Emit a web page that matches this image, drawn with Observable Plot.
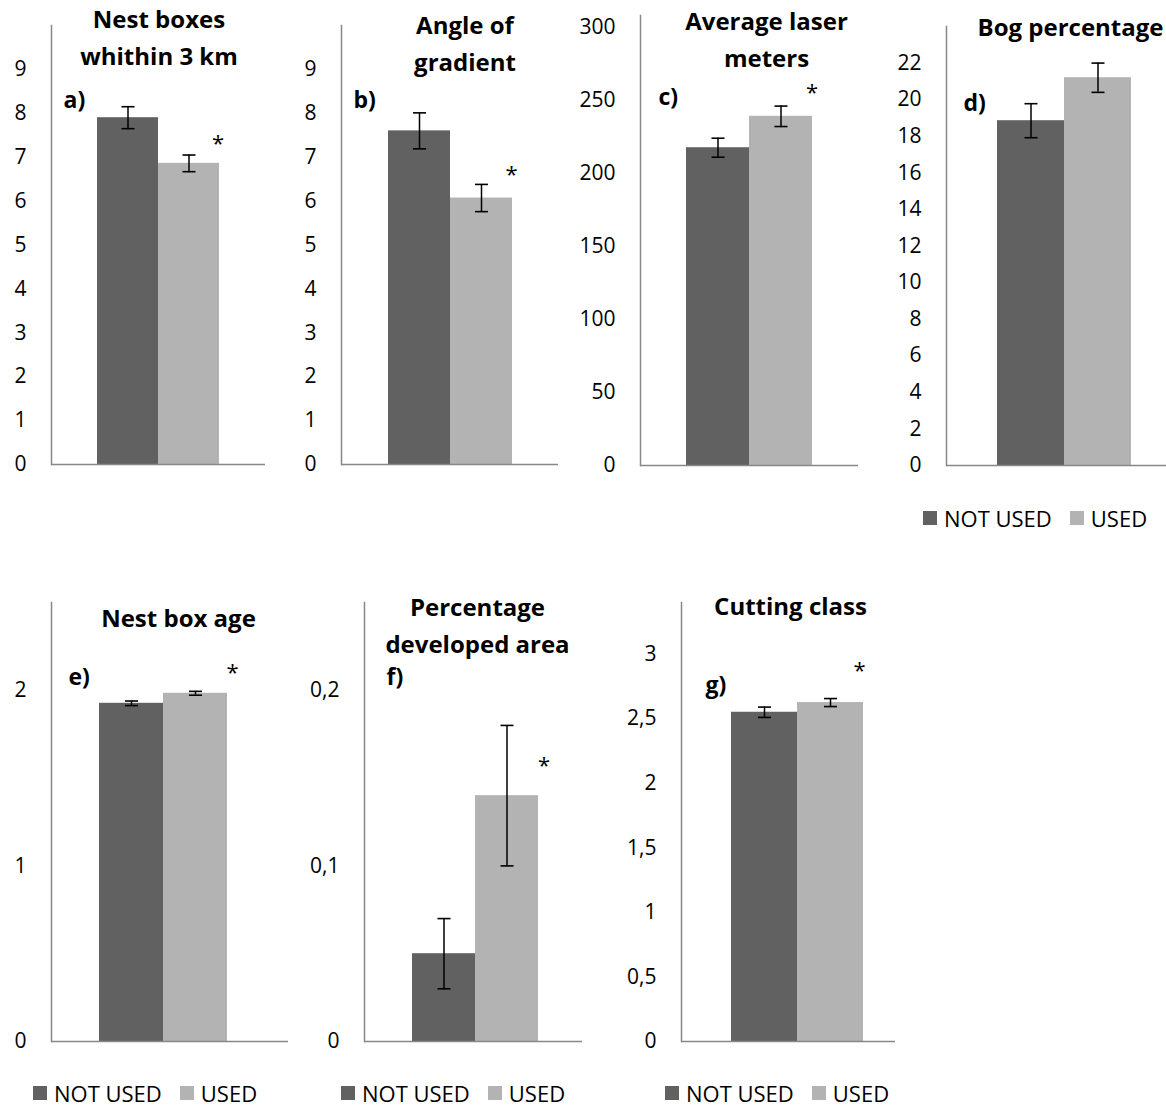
<!DOCTYPE html>
<html><head><meta charset="utf-8">
<script src="https://cdn.jsdelivr.net/npm/d3@7"></script>
<script src="https://cdn.jsdelivr.net/npm/@observablehq/plot@0.6"></script>
<style>
html,body{margin:0;padding:0;background:#fff;overflow:hidden;}
#chart{position:relative;width:1166px;height:1107px;font-family:"Open Sans",sans-serif;}
.panel{position:absolute;}
.leg-swatch{margin-right:18px !important;}
.leg-swatch > svg{margin-right:7px !important;}
</style></head><body><div id="chart"></div>
<script>
// ---- data ----
const groups = ["NOT USED", "USED"];
const panelLabels = ["a)", "b)", "c)", "d)", "e)", "f)", "g)"];
const titles = ["Nest boxes\nwhithin 3 km", "Angle of\ngradient", "Average laser\nmeters", "Bog percentage", "Nest box age", "Percentage\ndeveloped area", "Cutting class"];
const notUsedMean = [7.9, 7.6, 217.5, 18.85, 1.926, 0.05, 2.55];
const notUsedErr  = [0.25, 0.41, 6.5, 0.93, 0.013, 0.02, 0.04];
const usedMean    = [6.86, 6.07, 239, 21.2, 1.983, 0.14, 2.625];
const usedErr     = [0.19, 0.31, 7, 0.8, 0.011, 0.04, 0.031];
const significant = [true, true, true, false, true, true, true];
const yMax = [10, 10, 308, 24, 2.5, 0.25, 3.4];
const yTicks = [
  [0,1,2,3,4,5,6,7,8,9],
  [0,1,2,3,4,5,6,7,8,9],
  [0,50,100,150,200,250,300],
  [0,2,4,6,8,10,12,14,16,18,20,22],
  [0,1,2],
  [0,0.1,0.2],
  [0,0.5,1,1.5,2,2.5,3]
];

// ---- styles / layout ----
const colors = ["#616161", "#b3b3b3"];
const axisColor = "#888888";
const font = '"Open Sans", sans-serif';
const layout = [
  {frame:[51,25,265,464],  po:.726, align:.5,  title:[0.5,9.5], label:[12,75], star:[29,-11.5], legend:null},
  {frame:[341,25,558,464], po:.736, align:.5,  title:[15,15],   label:[12,75], star:[30,-9.5], legend:null},
  {frame:[640,15,858,465], po:.73,  align:.5,  title:[17,21.5], label:[18,82], star:[31,-13.5], legend:null},
  {frame:[946,26,1166,465],po:.64,  align:.59, title:[14,-2],   label:[17,77], star:[0,0], legend:[923,518]},
  {frame:[51,602,288,1041],po:.837, align:.444,title:[8.5,13],  label:[17,75], star:[37,-18.5], legend:[33,1093]},
  {frame:[364,602,582,1041],po:.717,align:.527,title:[4,20.5],  label:[22,75], star:[37,40.5], legend:[341,1093]},
  {frame:[681,602,895,1041],po:.609,align:.605,title:[2,1],     label:[24,83], star:[29,-27.5], legend:[665,1093]}
];
const ml = 90, mr = 40, mt = 50, mb = 20;
const fmt = d => String(d).replace(".", ",");
const cap = {draw(ctx, size) { const r = Math.sqrt(size / Math.PI); ctx.moveTo(-r, 0); ctx.lineTo(r, 0); }};

const root = document.getElementById("chart");

layout.forEach((L, i) => {
  const [x0, y0, x1, y1] = L.frame;
  const rows = groups.map((g, j) => ({
    group: g,
    mean: j ? usedMean[i] : notUsedMean[i],
    err: j ? usedErr[i] : notUsedErr[i]
  }));
  const marks = [
    Plot.barY(rows, {x: "group", y: "mean", fill: "group"}),
    Plot.ruleX(rows, {x: "group", y1: d => d.mean - d.err, y2: d => d.mean + d.err, stroke: "#000", strokeWidth: 1.5}),
    Plot.dot(rows, {x: "group", y: d => d.mean + d.err, symbol: cap, r: 6.5, stroke: "#000", fill: "none", strokeWidth: 1.6}),
    Plot.dot(rows, {x: "group", y: d => d.mean - d.err, symbol: cap, r: 6.5, stroke: "#000", fill: "none", strokeWidth: 1.6}),
    Plot.ruleY([0], {stroke: axisColor, strokeWidth: 1.5}),
    Plot.frame({anchor: "left", stroke: axisColor, strokeWidth: 1.5}),
    Plot.axisY({ticks: yTicks[i], tickSize: 0, tickPadding: 25, tickFormat: fmt, fontSize: 21, label: null}),
    Plot.text([titles[i]], {text: d => d, frameAnchor: "top", dx: L.title[0], dy: L.title[1], fontSize: 24, fontWeight: "bold", lineHeight: 1.54, lineAnchor: "middle"}),
    Plot.text([panelLabels[i]], {text: d => d, frameAnchor: "top-left", textAnchor: "start", dx: L.label[0], dy: L.label[1], fontSize: 23, fontWeight: "bold", lineAnchor: "middle"})
  ];
  if (significant[i]) {
    marks.push(Plot.text([rows[1]], {x: "group", y: d => d.mean + d.err, text: () => "*", dx: L.star[0], dy: L.star[1], fontSize: 22, lineAnchor: "middle"}));
  }
  const plot = Plot.plot({
    width: ml + (x1 - x0) + mr,
    height: mt + (y1 - y0) + mb,
    marginLeft: ml, marginRight: mr, marginTop: mt, marginBottom: mb,
    style: {fontFamily: font, fontSize: "21px", color: "#000", background: "transparent", overflow: "visible", maxWidth: "none"},
    x: {domain: groups, paddingInner: 0, paddingOuter: L.po, align: L.align, axis: null},
    y: {domain: [0, yMax[i]], axis: null},
    color: {domain: groups, range: colors},
    marks
  });
  const wrap = document.createElement("div");
  wrap.className = "panel";
  wrap.style.left = (x0 - ml) + "px";
  wrap.style.top = (y0 - mt) + "px";
  wrap.appendChild(plot);
  root.appendChild(wrap);

  if (L.legend) {
    const leg = Plot.legend({
      color: {type: "ordinal", domain: groups, range: colors},
      swatchSize: 14,
      className: "leg",
      style: {fontFamily: font, fontSize: "22px", color: "#000"}
    });
    const lw = document.createElement("div");
    lw.className = "panel";
    lw.style.left = L.legend[0] + "px";
    lw.style.top = (L.legend[1] - 16.5) + "px";
    lw.appendChild(leg);
    root.appendChild(lw);
  }
});
</script></body></html>
